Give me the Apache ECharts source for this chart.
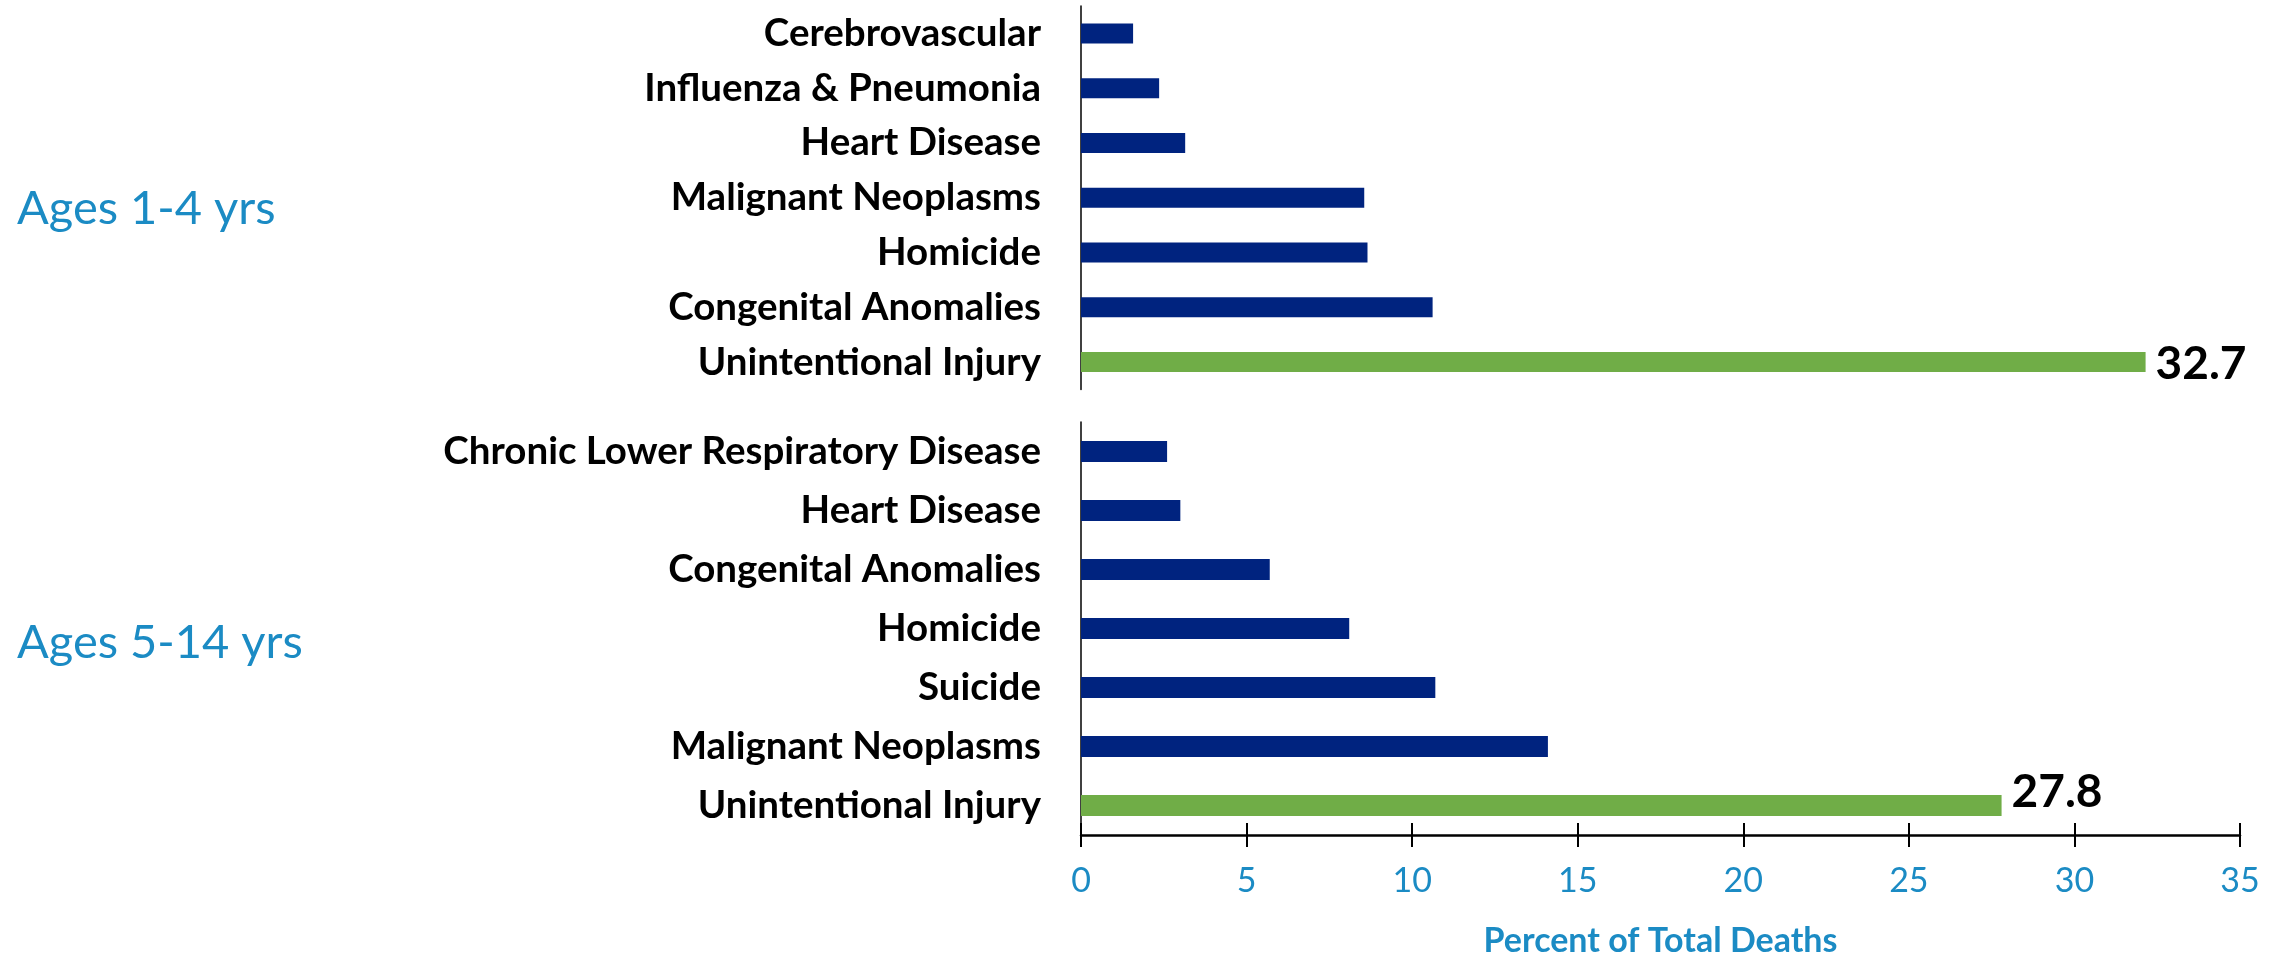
<!DOCTYPE html>
<html>
<head>
<meta charset="utf-8">
<script src="https://cdn.jsdelivr.net/npm/echarts@6/dist/echarts.min.js"></script>
<style>
  html, body { margin: 0; padding: 0; background: #fff; }
  #chart { width: 2285px; height: 959px; }
</style>
</head>
<body>
<div id="chart"></div>
<script>
// 两个年龄段的死因分类（自上而下）
const causes1to4 = ['Cerebrovascular', 'Influenza & Pneumonia', 'Heart Disease', 'Malignant Neoplasms', 'Homicide', 'Congenital Anomalies', 'Unintentional Injury']
const values1to4 = [1.6, 2.4, 3.2, 8.7, 8.8, 10.8, 32.7]
const causes5to14 = ['Chronic Lower Respiratory Disease', 'Heart Disease', 'Congenital Anomalies', 'Homicide', 'Suicide', 'Malignant Neoplasms', 'Unintentional Injury']
const values5to14 = [2.6, 3.0, 5.7, 8.1, 10.7, 14.1, 27.8]
const groupNames = ['Ages 1-4 yrs', 'Ages 5-14 yrs']
const xTicks = [0, 5, 10, 15, 20, 25, 30, 35]
const highlight = 'Unintentional Injury'

const NAVY = '#00237f'
const GREEN = '#70ad47'
const BLUE = '#1b8bc4'
const FONT = 'Lato'

// 标签样式
const catLabel = {
  fontFamily: FONT,
  fontWeight: 'bold',
  fontSize: 38.5,
  color: '#000',
  margin: 40
}
const makeY = (gridIndex, data) => ({
  type: 'category',
  gridIndex,
  data,
  inverse: true,
  axisLine: { show: true, lineStyle: { color: '#000', width: 1.5 } },
  axisTick: { show: false },
  splitLine: { show: false },
  axisLabel: catLabel
})
const makeSeries = (idx, data, offset) => ({
  type: 'bar',
  xAxisIndex: idx,
  yAxisIndex: idx,
  data,
  barWidth: idx === 0 ? 20 : 21,
  itemStyle: {
    color: p => (p.name === highlight ? GREEN : NAVY)
  },
  label: {
    show: true,
    position: 'right',
    distance: 10,
    offset,
    fontFamily: FONT,
    fontWeight: 'bold',
    fontSize: 46,
    color: '#000',
    formatter: p => (p.name === highlight ? String(p.value) : '')
  },
  animation: false
})

const groupTitle = (text, top) => ({
  text, left: 12, top,
  textStyle: { fontFamily: FONT, fontWeight: 'normal', fontSize: 47, color: BLUE }
})

const chart = echarts.init(document.getElementById('chart'))
chart.setOption({
  animation: false,
  backgroundColor: '#fff',
  title: [groupTitle(groupNames[0], 180), groupTitle(groupNames[1], 614)],
  grid: [
    { left: 1081, top: 6, width: 1159, height: 383.5 },
    { left: 1081, top: 422, width: 1159, height: 413.5 }
  ],
  xAxis: [
    // 上半部分不显示刻度
    { type: 'value', gridIndex: 0, min: 0, max: 35.6, show: false },
    {
      type: 'value', gridIndex: 1, min: 0, max: xTicks[xTicks.length - 1], interval: 5,
      axisLine: { show: true, lineStyle: { color: '#000', width: 2.5 } },
      axisTick: { show: true, length: 12, lineStyle: { color: '#000', width: 2 } },
      splitLine: { show: false },
      axisLabel: { fontFamily: FONT, fontSize: 34, color: BLUE, margin: 29 },
      name: 'Percent of Total Deaths',
      nameLocation: 'middle',
      nameGap: 89,
      nameTextStyle: { fontFamily: FONT, fontWeight: 'bold', fontSize: 34, color: BLUE }
    },
    // 刻度线向内的部分
    {
      type: 'value', gridIndex: 1, min: 0, max: 35, interval: 5, position: 'bottom',
      axisLine: { show: false },
      axisTick: { show: true, inside: true, length: 12, lineStyle: { color: '#000', width: 2 } },
      axisLabel: { show: false },
      splitLine: { show: false }
    }
  ],
  yAxis: [makeY(0, causes1to4), makeY(1, causes5to14)],
  series: [
    makeSeries(0, values1to4, [0, 2]),
    makeSeries(1, values5to14, [0, -13])
  ]
})
</script>
</body>
</html>
